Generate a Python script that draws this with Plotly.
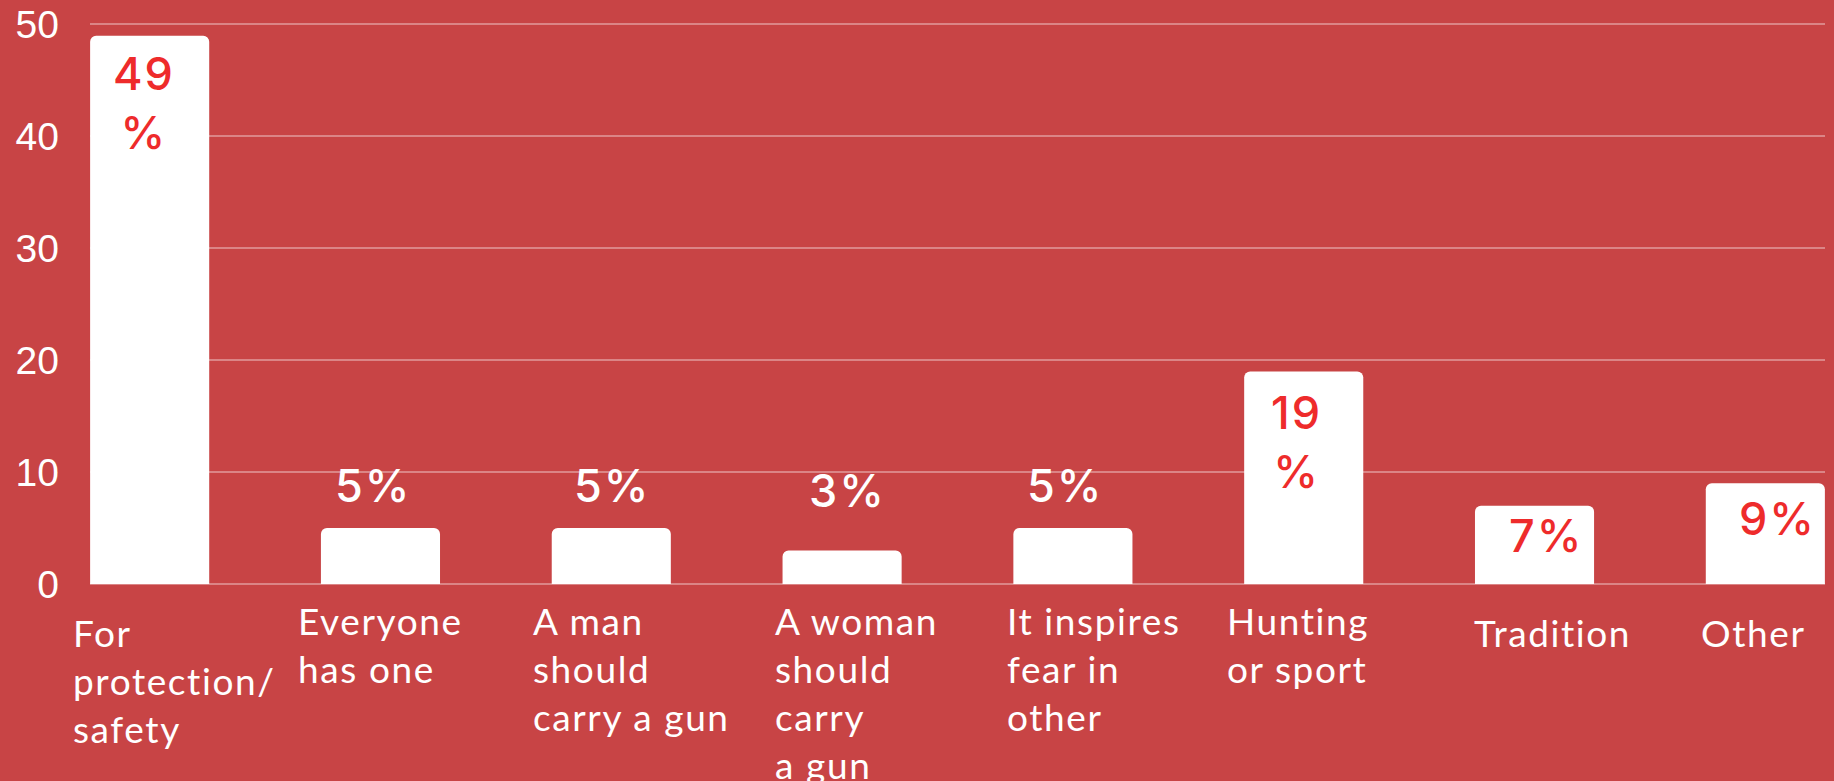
import plotly.graph_objects as go

# ---- data ----
categories = [
    "For<br>protection/<br>safety",
    "Everyone<br>has one",
    "A man<br>should<br>carry a gun",
    "A woman<br>should<br>carry<br>a gun",
    "It inspires<br>fear in<br>other",
    "Hunting<br>or sport",
    "Tradition",
    "Other",
]
values = [49, 5, 5, 3, 5, 19, 7, 9]
y_ticks = [0, 10, 20, 30, 40, 50]

# ---- styles ----
BG = "#C84445"
RED = "#EE2B2B"
WHITE = "#FFFFFF"
GRID = "rgba(255,255,255,0.35)"

# value label style per bar
val_inside = [True, False, False, False, False, True, True, True]
val_wrap = [True, False, False, False, False, True, False, False]
val_xshift = [-6, -7, 1, 5, -7, -7, 11, 12]
val_yshift = [-8, 13, 13, 30, 13, -12, 0, -6]
# category label style per bar
cat_xshift = [-79, -84, -80, -69, -68, -79, -63, -66]
cat_yshift = [-12, 0, 0, 0, 0, 0, -12, -12]


def spaced(text, px):
    return "<br>".join(
        f'<span style="letter-spacing:{px}px">{line}</span>' for line in text.split("<br>")
    )


fig = go.Figure()
fig.add_trace(go.Bar(
    x=list(range(len(categories))),
    y=values,
    width=0.516,
    marker=dict(color=WHITE, line=dict(width=0)),
    hoverinfo="skip",
))

annotations = []
for i, (cat, v) in enumerate(zip(categories, values)):
    txt = f"{v}<br>%" if val_wrap[i] else f"{v}%"
    annotations.append(dict(
        x=i, y=v, xref="x", yref="y", text=spaced(txt, 2), showarrow=False,
        xanchor="center", yanchor="top" if val_inside[i] else "bottom",
        xshift=val_xshift[i], yshift=val_yshift[i],
        font=dict(family="Inter, Noto Sans, sans-serif", size=45, weight=500,
                  color=RED if val_inside[i] else WHITE),
    ))
    annotations.append(dict(
        x=i, y=0, xref="x", yref="paper", text=spaced(cat, 1.6), showarrow=False,
        xanchor="left", yanchor="top", align="left",
        xshift=cat_xshift[i], yshift=-12 + cat_yshift[i],
        font=dict(family="Lato, sans-serif", size=37, color=WHITE),
    ))

fig.update_layout(
    width=1834, height=781,
    paper_bgcolor=BG, plot_bgcolor=BG,
    margin=dict(l=90, r=9, t=20, b=197, autoexpand=False),
    showlegend=False,
    barcornerradius=6,
    annotations=annotations,
    xaxis=dict(range=[-0.2585, 7.2585], showticklabels=False, showgrid=False,
               zeroline=False, showline=False, fixedrange=True, automargin=False),
    yaxis=dict(range=[0, 50.4], tickvals=y_ticks, showgrid=True, gridcolor=GRID,
               gridwidth=1.5, zeroline=True, zerolinecolor=GRID, zerolinewidth=1.5,
               showline=False, ticks="", automargin=False,
               tickfont=dict(family="Liberation Sans, Arial, sans-serif", size=39, color=WHITE),
               ticklabelstandoff=30, fixedrange=True),
)

fig.write_html(
    "out.html",
    config={"displayModeBar": False},
    post_script="document.body.style.margin='0px';document.body.style.background='%s';" % BG,
)
